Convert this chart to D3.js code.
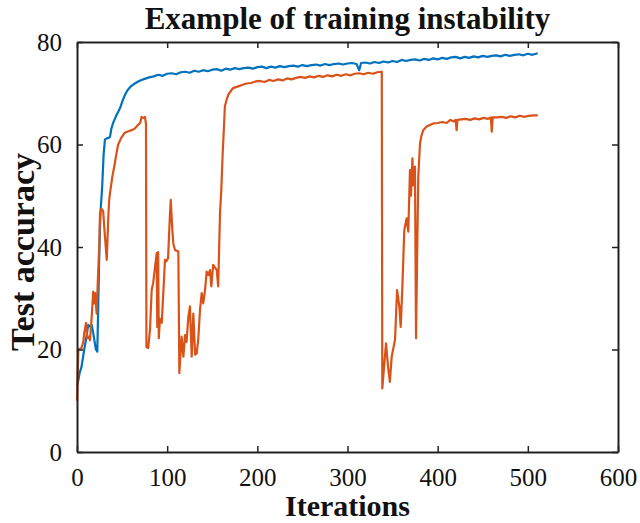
<!DOCTYPE html>
<html><head><meta charset="utf-8">
<script src="https://cdn.jsdelivr.net/npm/d3@7"></script>
<style>body{margin:0;background:#fff}svg{display:block}text{font-family:"Liberation Serif","Times New Roman",serif;fill:#111}</style>
</head><body><svg id="c" width="640" height="523"></svg>
<script>
const title = "Example of training instability";
const xLabel = "Iterations";
const yLabel = "Test accuracy";
const xTicks = [0,100,200,300,400,500,600];
const yTicks = [0,20,40,60,80];
const seriesNames = ["stable","unstable"];
const seriesColors = ["#0072BD","#D95319"];
const blueX = [0,1.5,3,5,8,10,12.5,14,16.3,18,20,21,22.5,23.5,24.4,25.5,26.2,28,29.5,31,33,35,36.6,38,40,42,44,46,48,50,53,56,
  60,65,70,75,80,85,90,95,100,105,110,115,120,125,130,135,140,145,150,155,160,165,170,175,180,185,190,195,200,205,210,215,220,225,230,235,240,245,250,255,260,265,270,275,280,285,290,295,300,305,310,313,315,320,325,330,335,340,345,350,355,360,365,370,375,380,385,390,395,400,405,410,415,420,425,430,435,440,445,450,455,460,465,470,475,480,485,490,495,500,505,511];
const blueY = [13,14,15.5,16.6,20,22,24.8,24.5,24.8,23.2,21,20,19.6,28,36,44,47.2,52,58,61,61.2,61.3,61.5,63,64.2,65,65.8,66.5,67.2,68.3,69.6,70.6,
  71.4,72.0,72.5,72.8,73.1,73.3,73.6,73.4,73.8,73.9,73.7,74.1,74.2,74.0,74.4,74.2,74.5,74.3,74.6,74.7,74.4,74.8,74.6,74.9,74.7,74.9,75.0,74.8,75.1,75.2,74.9,75.2,75.0,75.3,75.1,75.3,75.4,75.2,75.5,75.3,75.5,75.6,75.4,75.7,75.5,75.7,75.8,75.6,75.8,75.9,75.7,74.5,75.9,76.0,75.8,76.1,75.9,76.2,76.0,76.3,76.1,76.5,76.3,76.5,76.6,76.4,76.7,76.5,76.8,76.6,76.9,76.7,77.0,77.1,76.8,77.1,76.9,77.2,77.0,77.3,77.1,77.3,77.4,77.2,77.5,77.3,77.5,77.6,77.4,77.7,77.5,77.8];
const orangeX = [0,1.5,5,7,8,10,11.5,13,14.4,16.3,18,19,20,21.8,23,24.8,25.5,27,29,31,33,34.5,35.6,36.6,39,42,44,45.7,49,53,57,60.6,64,67.7,70,71.7,73.5,75.4,76.5,77,79,81,82.8,84.5,86.5,88.4,89,90,90.7,92,94,95.7,97.6,99,101,103,104,105.5,106.8,108.7,112.4,113.5,116,118,119.8,121.5,123.5,125.3,127.2,129,131,132.7,134.5,136.4,138.3,140,142,143.8,145.5,147.5,149,151,153,155,156.6,158.6,160,161.5,163,164,166,167.8,170,173,178,183,188,193,198,203,
  208,213,218,223,228,233,238,243,248,253,258,263,268,273,278,283,288,293,298,303,308,313,318,323,328,333,338,338.6,342.7,345,347,349,352.7,355,357.5,359,360.8,363,365.6,367.4,369.3,370.4,372,373,374.8,376,377.4,378.5,380.4,382,384,387.8,391.5,395,400,405,410,414,418,420,421,422,426,431,436,441,446,451,456,459,460,461,466,471,476,481,486,491,496,501,506,511];
const orangeY = [10,20,20.3,21.5,23.2,25.2,22.2,22.5,21.8,26.4,31.3,29,31,27,33,40.8,46.6,47.5,47,42,37.5,45,49,50.5,53.5,56.4,58.5,60,61.3,62.3,62.6,62.8,63.1,63.8,64.2,65.4,65.2,65.4,64,20.5,20.3,24,31.6,33,36,38.8,24.4,39,22.2,26,25.2,31,37.5,37.2,37.8,46,49.2,44,40.7,39.4,39.1,15.4,22.5,18.6,22.8,21.5,26.4,28.4,18.6,27,19,19.2,22,27.7,31,29,31.6,35.2,34.5,35.5,32.3,36.5,36,35.5,32.3,46.6,51,58,63.5,67.4,68.8,69.7,70.3,71,71.3,71.6,71.9,72.0,72.3,72.4,
  72.2,72.6,72.4,72.7,72.5,72.9,72.7,73.0,73.2,73.0,73.3,73.1,73.4,73.2,73.5,73.3,73.6,73.4,73.7,73.5,73.8,73.9,73.7,74.0,73.8,74.1,74.2,12.4,21.2,16.6,13.7,18.6,21.9,31.6,28.4,24.4,32,43.3,45.6,43,55,50,57.3,52,55.7,22.2,40.4,53.7,60.2,61.7,62.8,63.5,63.8,64.1,64.2,64.4,64.2,64.8,64.5,64.8,62.8,64.8,64.9,65.0,64.8,65.1,64.9,65.2,65.0,65.3,62.5,65.3,65.3,65.4,65.2,65.5,65.3,65.6,65.4,65.6,65.7,65.7];

const svg = d3.select("#c");
const L=77, R=618, T=42, B=452;
const x = d3.scaleLinear().domain([0,600]).range([L,R]);
const y = d3.scaleLinear().domain([0,80]).range([B,T]);

const line = d3.line().x(d=>x(d[0])).y(d=>y(d[1]));
const series = [d3.zip(blueX,blueY), d3.zip(orangeX,orangeY)];
series.forEach((s,i)=>{
  svg.append("path").datum(s).attr("d",line).attr("fill","none")
    .attr("stroke",seriesColors[i]).attr("stroke-width",2.2).attr("stroke-linejoin","round");
});

// axes (MATLAB-style box with inward ticks)
const tl=6;
const gB = svg.append("g").attr("transform",`translate(0,${B})`)
  .call(d3.axisBottom(x).tickValues(xTicks).tickSize(-tl).tickPadding(16).tickSizeOuter(0));
const gT = svg.append("g").attr("transform",`translate(0,${T})`)
  .call(d3.axisTop(x).tickValues(xTicks).tickSize(-tl).tickFormat("").tickSizeOuter(0));
const gL = svg.append("g").attr("transform",`translate(${L},0)`)
  .call(d3.axisLeft(y).tickValues(yTicks).tickSize(-tl).tickPadding(15).tickSizeOuter(0));
const gR = svg.append("g").attr("transform",`translate(${R},0)`)
  .call(d3.axisRight(y).tickValues(yTicks).tickSize(-tl).tickFormat("").tickSizeOuter(0));
[gB,gT,gL,gR].forEach(g=>{
  g.select(".domain").attr("stroke","#222").attr("stroke-width",2);
  g.selectAll(".tick line").attr("stroke","#222").attr("stroke-width",1.5);
  g.selectAll(".tick text").style("font-family",'"Liberation Serif",serif').style("font-size","25px").attr("fill","#111");
});
gB.selectAll(".tick text").attr("dy","0.72em");

svg.append("text").attr("x",(L+R)/2).attr("y",29).attr("text-anchor","middle")
  .style("font-size","31px").style("font-weight","bold").text(title);
svg.append("text").attr("x",(L+R)/2).attr("y",516).attr("text-anchor","middle")
  .style("font-size","30px").style("font-weight","bold").text(xLabel);
svg.append("text").attr("transform",`translate(34,252) rotate(-90)`).attr("text-anchor","middle")
  .style("font-size","34px").style("font-weight","bold").text(yLabel);
</script></body></html>
